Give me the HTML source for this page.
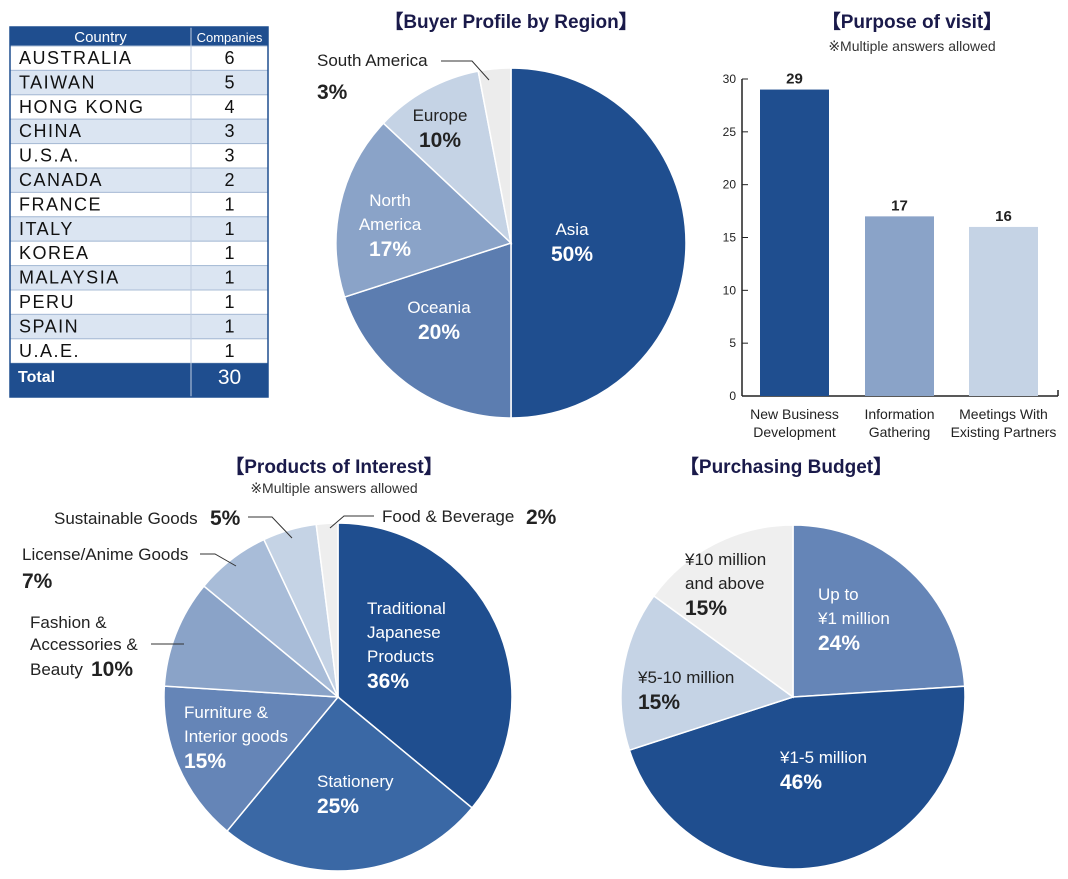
<!DOCTYPE html>
<html><head><meta charset="utf-8"><style>
body{margin:0;background:#fff;width:1068px;height:879px;overflow:hidden;font-family:"Liberation Sans","DejaVu Sans",sans-serif}
svg{position:absolute;left:0;top:0}
</style></head><body>
<svg id="s" width="1068" height="879" font-family="Liberation Sans, DejaVu Sans, sans-serif">
<g id="table"></g>
<g id="pie1"></g>
<g id="bar"></g>
<g id="pie2"></g>
<g id="pie3"></g>
<text x="511" y="28" text-anchor="middle" font-size="19" font-weight="bold" fill="#1a1a4a">【Buyer Profile by Region】</text>
<text x="912" y="28" text-anchor="middle" font-size="19" font-weight="bold" fill="#1a1a4a">【Purpose of visit】</text>
<text x="912" y="51" text-anchor="middle" font-size="14" fill="#333">※Multiple answers allowed</text>
<text x="334" y="473" text-anchor="middle" font-size="19" font-weight="bold" fill="#1a1a4a">【Products of Interest】</text>
<text x="334" y="493" text-anchor="middle" font-size="14" fill="#333">※Multiple answers allowed</text>
<text x="786" y="473" text-anchor="middle" font-size="19" font-weight="bold" fill="#1a1a4a">【Purchasing Budget】</text>
</svg>
<script>
const NS='http://www.w3.org/2000/svg';
function mk(p,t,a,txt){const e=document.createElementNS(NS,t);for(const k in a)e.setAttribute(k,a[k]);if(txt!==undefined)e.textContent=txt;p.appendChild(e);return e;}

const countries=['AUSTRALIA','TAIWAN','HONG KONG','CHINA','U.S.A.','CANADA','FRANCE','ITALY','KOREA','MALAYSIA','PERU','SPAIN','U.A.E.'];
const companies=[6,5,4,3,3,2,1,1,1,1,1,1,1];
const totalCompanies=30;

const regionLabels=['Asia','Oceania','North America','Europe','South America'];
const regionValues=[50,20,17,10,3];

const purposeCats=[['New Business','Development'],['Information','Gathering'],['Meetings With','Existing Partners']];
const purposeValues=[29,17,16];
const purposeTicks=[0,5,10,15,20,25,30];

const productLabels=['Traditional Japanese Products','Stationery','Furniture & Interior goods','Fashion & Accessories & Beauty','License/Anime Goods','Sustainable Goods','Food & Beverage'];
const productValues=[36,25,15,10,7,5,2];

const budgetLabels=['Up to ¥1 million','¥1-5 million','¥5-10 million','¥10 million and above'];
const budgetValues=[24,46,15,15];

const T=document.getElementById('table');
const tx=10,tw=258,cd=191,hy=27,hh=19,rh=24.4;
mk(T,'rect',{x:tx,y:hy,width:tw,height:hh,fill:'#1f4e8f'});
mk(T,'text',{x:(tx+cd)/2,y:hy+15,'text-anchor':'middle','font-size':15,fill:'#fff'},'Country');
mk(T,'text',{x:(cd+tx+tw)/2,y:hy+15,'text-anchor':'middle','font-size':13,fill:'#fff'},'Companies');
countries.forEach((c,i)=>{
  const y=hy+hh+i*rh;
  const r=mk(T,'rect',{x:tx,y:y,width:tw,height:rh,fill:i%2?'#dbe5f2':'#fff',stroke:'#a9bcd6','stroke-width':1});
  
  
  mk(T,'text',{x:tx+9,y:y+18,'font-size':18,fill:'#111','letter-spacing':'1.5'},c);
  mk(T,'text',{x:(cd+tx+tw)/2,y:y+18,'text-anchor':'middle','font-size':18,fill:'#111'},companies[i]);
});
const ty=hy+hh+countries.length*rh;
mk(T,'rect',{x:tx,y:ty,width:tw,height:397-ty,fill:'#1f4e8f'});
mk(T,'text',{x:tx+8,y:ty+19,'font-size':16,'font-weight':'bold',fill:'#fff'},'Total');
mk(T,'text',{x:(cd+tx+tw)/2,y:ty+21,'text-anchor':'middle','font-size':21,fill:'#fff'},totalCompanies);
mk(T,'line',{x1:cd,y1:hy,x2:cd,y2:397,stroke:'#c0cde0','stroke-width':1});
mk(T,'rect',{x:tx,y:hy,width:tw,height:397-hy,fill:'none',stroke:'#1f4e8f','stroke-width':1.5});

function pie(g,cx,cy,r,vals,cols,name){
  const tot=vals.reduce((a,b)=>a+b,0);let a0=0;const mids=[];
  vals.forEach((v,i)=>{
    const a1=a0+v/tot*2*Math.PI;
    const p=(a)=>[cx+r*Math.sin(a),cy-r*Math.cos(a)];
    const [x0,y0]=p(a0),[x1,y1]=p(a1);
    const s=mk(g,'path',{d:`M${cx},${cy}L${x0},${y0}A${r},${r} 0 ${a1-a0>Math.PI?1:0} 1 ${x1},${y1}Z`,fill:cols[i],stroke:'#fff','stroke-width':1.5});
    
    
    mids.push((a0+a1)/2);a0=a1;
  });
  return mids;
}
function lbl(g,x,y,lines,pct,col,anchor){
  anchor=anchor||'middle';
  lines.forEach((l,i)=>mk(g,'text',{x:x,y:y+i*24,'text-anchor':anchor,'font-size':17,fill:col},l));
  if(pct!==null)mk(g,'text',{x:x,y:y+lines.length*24+2,'text-anchor':anchor,'font-size':21,'font-weight':'bold',fill:col},pct);
}

const P1=document.getElementById('pie1');
pie(P1,511,243,175,regionValues,['#1f4e8f','#5c7db0','#8aa3c8','#c5d3e5','#ececec'],'region');
lbl(P1,572,235,['Asia'],regionValues[0]+'%','#fff');
lbl(P1,439,313,['Oceania'],regionValues[1]+'%','#fff');
lbl(P1,390,206,['North','America'],regionValues[2]+'%','#fff');
lbl(P1,440,121,['Europe'],regionValues[3]+'%','#222');
mk(P1,'text',{x:317,y:66,'font-size':17,fill:'#222'},'South America');
mk(P1,'text',{x:317,y:99,'font-size':21,'font-weight':'bold',fill:'#222'},regionValues[4]+'%');
mk(P1,'polyline',{points:'441,61 472,61 489,80',fill:'none',stroke:'#333','stroke-width':1});

const B=document.getElementById('bar');
const y0=396,ppu=(396-79)/30,ax=742,bx=[760,865,969],bw=69,bcol=['#1f4e8f','#8aa3c8','#c5d3e5'];
const ys=v=>y0-v*ppu;
mk(B,'line',{x1:ax,y1:ys(30),x2:ax,y2:y0,stroke:'#222','stroke-width':1.5});
mk(B,'line',{x1:ax,y1:y0,x2:1058,y2:y0,stroke:'#222','stroke-width':1.5});
mk(B,'line',{x1:1058,y1:y0,x2:1058,y2:y0-6,stroke:'#222','stroke-width':1.5});
purposeTicks.forEach(t=>{
  mk(B,'line',{x1:ax,y1:ys(t),x2:ax+6,y2:ys(t),stroke:'#222'});
  mk(B,'text',{x:ax-6,y:ys(t)+4,'text-anchor':'end','font-size':12,fill:'#222'},t);
});
purposeValues.forEach((v,i)=>{
  const r=mk(B,'rect',{x:bx[i],y:ys(v),width:bw,height:y0-ys(v),fill:bcol[i]});
  
  
  mk(B,'text',{x:bx[i]+bw/2,y:ys(v)-6,'text-anchor':'middle','font-size':15,'font-weight':'bold',fill:'#222'},v);
  purposeCats[i].forEach((l,j)=>mk(B,'text',{x:bx[i]+bw/2,y:419+j*18,'text-anchor':'middle','font-size':14,fill:'#222'},l));
});

const P2=document.getElementById('pie2');
pie(P2,338,697,174,productValues,['#1f4e8f','#3a68a5','#6585b7','#8aa3c8','#a8bcd8','#c5d3e5','#eeeeee'],'product');
lbl(P2,367,614,['Traditional','Japanese','Products'],productValues[0]+'%','#fff','start');
lbl(P2,317,787,['Stationery'],productValues[1]+'%','#fff','start');
lbl(P2,184,718,['Furniture &','Interior goods'],productValues[2]+'%','#fff','start');
const dk='#222';
mk(P2,'text',{x:30,y:628,'font-size':17,fill:dk},'Fashion &');
mk(P2,'text',{x:30,y:650,'font-size':17,fill:dk},'Accessories &');
mk(P2,'text',{x:30,y:675,'font-size':17,fill:dk},'Beauty');
mk(P2,'text',{x:91,y:676,'font-size':21,'font-weight':'bold',fill:dk},productValues[3]+'%');
mk(P2,'line',{x1:151,y1:644,x2:184,y2:644,stroke:'#333'});
mk(P2,'text',{x:22,y:560,'font-size':17,fill:dk},'License/Anime Goods');
mk(P2,'text',{x:22,y:588,'font-size':21,'font-weight':'bold',fill:dk},productValues[4]+'%');
mk(P2,'polyline',{points:'200,554 215,554 236,566',fill:'none',stroke:'#333'});
mk(P2,'text',{x:54,y:524,'font-size':17,fill:dk},'Sustainable Goods');
mk(P2,'text',{x:210,y:525,'font-size':21,'font-weight':'bold',fill:dk},productValues[5]+'%');
mk(P2,'polyline',{points:'248,517 272,517 292,538',fill:'none',stroke:'#333'});
mk(P2,'text',{x:382,y:522,'font-size':17,fill:dk},'Food & Beverage');
mk(P2,'text',{x:526,y:524,'font-size':21,'font-weight':'bold',fill:dk},productValues[6]+'%');
mk(P2,'polyline',{points:'374,516 344,516 330,528',fill:'none',stroke:'#333'});

const P3=document.getElementById('pie3');
pie(P3,793,697,172,budgetValues,['#6585b7','#1f4e8f','#c5d3e5','#efefef'],'budget');
lbl(P3,818,600,['Up to','¥1 million'],budgetValues[0]+'%','#fff','start');
lbl(P3,780,763,['¥1-5 million'],budgetValues[1]+'%','#fff','start');
lbl(P3,638,683,['¥5-10 million'],budgetValues[2]+'%','#222','start');
lbl(P3,685,565,['¥10 million','and above'],budgetValues[3]+'%','#222','start');
</script>
</body></html>
